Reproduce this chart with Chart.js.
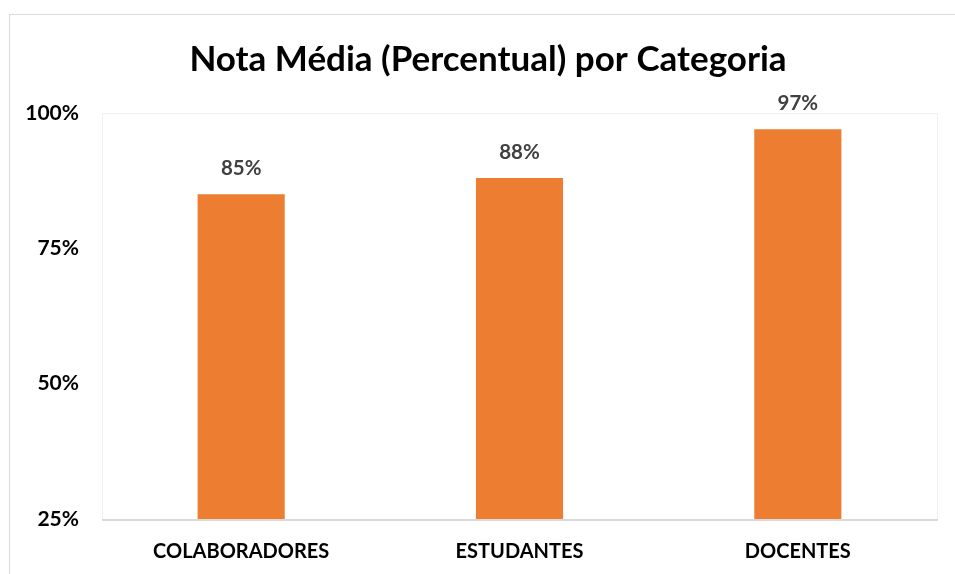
<!DOCTYPE html>
<html>
<head>
<meta charset="utf-8">
<script src="https://cdn.jsdelivr.net/npm/chart.js@4/dist/chart.umd.min.js"></script>
<style>
  html, body { margin: 0; padding: 0; background: #fff; overflow: hidden; }
  #frame { position: absolute; left: 9px; top: 14px; width: 960px; height: 580px;
           border: 1px solid #d9d9d9; box-sizing: border-box; }
  #wrap { position: absolute; left: 0; top: 0; width: 955px; height: 574px; }
</style>
</head>
<body>
<div id="frame"></div>
<div id="wrap"><canvas id="chart" width="955" height="574"></canvas></div>
<script>
  var titleText = "Nota Média (Percentual) por Categoria";
  var categories = ["COLABORADORES", "ESTUDANTES", "DOCENTES"];
  var notaMedia = [85, 88, 97];
  var yTicks = [25, 50, 75, 100];

  var fontFamily = "Lato, 'Open Sans', sans-serif";

  // light frame around the plot area, darker bottom axis line
  var plotFrame = {
    id: "plotFrame",
    beforeDatasetsDraw: function (chart) {
      var a = chart.chartArea, ctx = chart.ctx;
      ctx.save();
      ctx.strokeStyle = "#efefef";
      ctx.lineWidth = 1;
      ctx.strokeRect(a.left + 0.5, a.top + 0.5, a.right - a.left, a.bottom - a.top);
      ctx.strokeStyle = "#d9d9d9";
      ctx.lineWidth = 2;
      ctx.beginPath();
      ctx.moveTo(a.left, a.bottom + 1);
      ctx.lineTo(a.right + 1, a.bottom + 1);
      ctx.stroke();
      ctx.restore();
    }
  };

  // title sits a little right of the canvas centre, as in the original
  var chartTitle = {
    id: "chartTitle",
    afterDraw: function (chart) {
      var ctx = chart.ctx;
      ctx.save();
      ctx.font = "bold 35px " + fontFamily;
      ctx.fillStyle = "#000";
      ctx.textAlign = "center";
      ctx.textBaseline = "middle";
      ctx.fillText(titleText, 488, 60);
      ctx.restore();
    }
  };

  var valueLabels = {
    id: "valueLabels",
    afterDatasetsDraw: function (chart) {
      var ctx = chart.ctx;
      var meta = chart.getDatasetMeta(0);
      ctx.save();
      ctx.font = "bold 20.5px " + fontFamily;
      ctx.fillStyle = "#404040";
      ctx.textAlign = "center";
      ctx.textBaseline = "middle";
      meta.data.forEach(function (bar, i) {
        ctx.fillText(notaMedia[i] + "%", bar.x, bar.y - 26);
      });
      ctx.restore();
    }
  };

  new Chart(document.getElementById("chart"), {
    type: "bar",
    data: {
      labels: categories,
      datasets: [{
        data: notaMedia,
        backgroundColor: "#ed7d31",
        borderWidth: 0,
        barPercentage: 0.313,
        categoryPercentage: 1
      }]
    },
    options: {
      responsive: false,
      animation: false,
      layout: { padding: { left: 0, right: 18, top: 113, bottom: 0 } },
      plugins: {
        legend: { display: false },
        tooltip: { enabled: false },
        title: { display: false }
      },
      scales: {
        y: {
          min: 25,
          max: 100,
          afterBuildTicks: function (scale) {
            scale.ticks = yTicks.map(function (v) { return { value: v }; });
          },
          afterFit: function (scale) { scale.width = 102; },
          grid: { display: false, drawTicks: false },
          border: { display: false },
          ticks: {
            padding: 23,
            color: "#000",
            font: { family: fontFamily, size: 21, weight: "bold" },
            callback: function (v) { return v + "%"; }
          }
        },
        x: {
          afterFit: function (scale) { scale.height = 55; },
          grid: { display: false, drawTicks: false },
          border: { display: false },
          ticks: {
            padding: 21,
            color: "#000",
            maxRotation: 0,
            font: { family: fontFamily, size: 20, weight: "bold" }
          }
        }
      }
    },
    plugins: [plotFrame, valueLabels, chartTitle]
  });
</script>
</body>
</html>
